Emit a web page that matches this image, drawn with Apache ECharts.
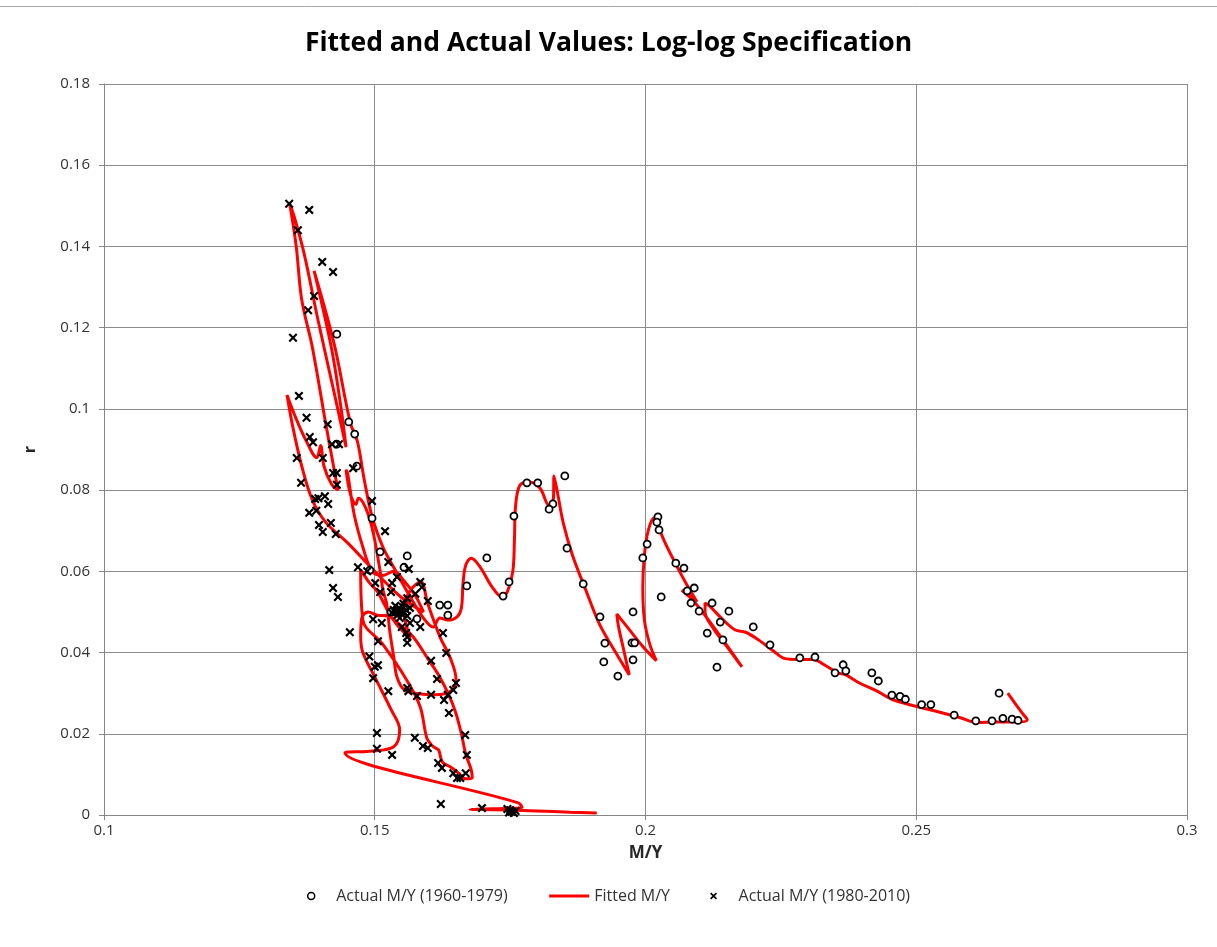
<!DOCTYPE html>
<html><head><meta charset="utf-8">
<script src="https://cdn.jsdelivr.net/npm/echarts@6/dist/echarts.min.js"></script>
<style>html,body{margin:0;padding:0;background:#fff}#c{width:1217px;height:947px}</style>
</head><body><div id="c"></div>
<script>
// Actual M/Y vs r, 1960-1979 (circles)
const actual6079 = [
[0.2285,0.0387],[0.2313,0.0389],[0.2350,0.0350],[0.2365,0.0370],[0.2370,0.0355],[0.2418,0.0350],[0.2430,0.0330],[0.2455,0.0295],[0.2470,0.0292],[0.2480,0.0285],[0.2510,0.0272],[0.2527,0.0272],[0.2570,0.0246],[0.2610,0.0232],[0.2640,0.0232],[0.2653,0.0300],[0.2660,0.0238],[0.2677,0.0236],[0.2688,0.0233],
[0.2199,0.0463],[0.2230,0.0419],[0.2154,0.0502],[0.2143,0.0431],[0.2138,0.0475],[0.2132,0.0364],[0.2114,0.0448],[0.2123,0.0522],[0.2099,0.0502],[0.2084,0.0522],[0.2090,0.0559],[0.2077,0.0552],[0.2071,0.0608],[0.2056,0.0620],[0.2029,0.0537],[0.2025,0.0702],[0.2023,0.0734],[0.2021,0.0721],[0.2003,0.0667],[0.1995,0.0633],[0.1977,0.0500],[0.1975,0.0424],[0.1980,0.0424],[0.1977,0.0382],[0.1949,0.0342],[0.1923,0.0377],[0.1925,0.0423],[0.1916,0.0488],[0.1885,0.0569],
[0.1855,0.0657],[0.1851,0.0835],[0.1829,0.0766],[0.1822,0.0753],[0.1801,0.0818],[0.1781,0.0818],[0.1757,0.0736],[0.1748,0.0574],[0.1737,0.0539],[0.1707,0.0633],[0.1670,0.0564],[0.1635,0.0492],[0.1635,0.0517],[0.1620,0.0517],[0.1578,0.0483],[0.1530,0.0500],
[0.1560,0.0638],[0.1554,0.0610],[0.1510,0.0648],[0.1495,0.0731],[0.1491,0.0603],[0.1467,0.0859],[0.1463,0.0938],[0.1452,0.0968],[0.1430,0.1184],[0.1430,0.0913]
];
// Actual M/Y vs r, 1980-2010 (crosses)
const actual8010 = [
[0.1342,0.1505],[0.1379,0.1490],[0.1358,0.1440],[0.1403,0.1362],[0.1423,0.1337],[0.1388,0.1278],[0.1377,0.1243],[0.1349,0.1175],[0.1360,0.1032],[0.1374,0.0978],[0.1413,0.0962],[0.1380,0.0931],[0.1386,0.0918],[0.1421,0.0913],[0.1434,0.0913],[0.1356,0.0879],[0.1404,0.0879],[0.1364,0.0818],[0.1423,0.0842],[0.1430,0.0842],[0.1430,0.0813],[0.1460,0.0854],
[0.1390,0.0778],[0.1396,0.0780],[0.1408,0.0785],[0.1414,0.0766],[0.1379,0.0744],[0.1392,0.0749],[0.1397,0.0714],[0.1419,0.0719],[0.1404,0.0697],[0.1428,0.0692],[0.1495,0.0773],[0.1519,0.0699],[0.1525,0.0623],[0.1469,0.0610],[0.1486,0.0600],[0.1563,0.0606],[0.1416,0.0603],[0.1541,0.0586],[0.1501,0.0571],[0.1532,0.0571],[0.1584,0.0574],[0.1587,0.0561],[0.1423,0.0559],[0.1510,0.0549],[0.1530,0.0549],[0.1432,0.0537],[0.1560,0.0534],[0.1598,0.0527],[0.1575,0.0545],
[0.1535,0.0505],[0.1540,0.0500],[0.1545,0.0510],[0.1550,0.0495],[0.1548,0.0502],[0.1552,0.0512],[0.1555,0.0498],[0.1542,0.0492],[0.1538,0.0515],[0.1558,0.0505],[0.1560,0.0490],[0.1546,0.0485],[0.1532,0.0498],[0.1565,0.0510],[0.1553,0.0520],
[0.1497,0.0482],[0.1513,0.0473],[0.1565,0.0473],[0.1550,0.0463],[0.1584,0.0463],[0.1454,0.0450],[0.1558,0.0448],[0.1626,0.0448],[0.1506,0.0428],[0.1560,0.0438],[0.1560,0.0424],[0.1632,0.0399],[0.1490,0.0390],[0.1506,0.0369],[0.1500,0.0365],[0.1497,0.0337],[0.1604,0.0380],[0.1615,0.0335],[0.1525,0.0305],[0.1560,0.0313],[0.1562,0.0305],[0.1578,0.0293],[0.1604,0.0296],[0.1628,0.0283],[0.1635,0.0296],[0.1645,0.0308],[0.1650,0.0325],[0.1637,0.0251],
[0.1504,0.0202],[0.1504,0.0163],[0.1532,0.0148],[0.1574,0.0190],[0.1589,0.0170],[0.1598,0.0165],[0.1617,0.0128],[0.1624,0.0116],[0.1645,0.0103],[0.1652,0.0091],[0.1658,0.0091],[0.1668,0.0103],[0.1670,0.0148],[0.1667,0.0197],[0.1622,0.0027],[0.1698,0.0017],[0.1745,0.0015],[0.1750,0.0012],[0.1753,0.0008],[0.1757,0.0005],[0.1760,0.0010],[0.1748,0.0006]
];
// Fitted M/Y vs r, in time order
const fitted1960s = [
[0.2669,0.0300],[0.2695,0.0252],[0.2705,0.0234],[0.2682,0.0229],[0.2645,0.0229],[0.2612,0.0228],[0.2580,0.0240],[0.2535,0.0256],[0.2490,0.0271],[0.2455,0.0285],[0.2425,0.0307],[0.2395,0.0325],[0.2370,0.0345],[0.2355,0.0350],[0.2330,0.0370],[0.2310,0.0383],[0.2280,0.0383],[0.2258,0.0385],[0.2235,0.0405],[0.2210,0.0430],[0.2185,0.0450],[0.2165,0.0456],[0.2140,0.0485],[0.2118,0.0515],[0.2110,0.0522],[0.2110,0.0500],[0.2125,0.0460],[0.2150,0.0415],[0.2178,0.0365],[0.2130,0.0455],[0.2090,0.0525],[0.2067,0.0553],[0.2082,0.0545],[0.2095,0.0525],[0.2075,0.0570],[0.2055,0.0620],[0.2038,0.0665],[0.2025,0.0705],[0.2016,0.0732]
];
const fitted1970s = [
[0.2005,0.0700],[0.1998,0.0640],[0.1995,0.0560],[0.1998,0.0480],[0.2008,0.0420],[0.2020,0.0380],[0.1995,0.0415],[0.1965,0.0465],[0.1947,0.0495],[0.1950,0.0465],[0.1960,0.0405],[0.1970,0.0345],[0.1945,0.0400],[0.1915,0.0470],[0.1888,0.0560],[0.1865,0.0640],[0.1848,0.0720],[0.1838,0.0790],[0.1831,0.0835],[0.1830,0.0780],[0.1822,0.0762],[0.1805,0.0805],[0.1785,0.0820],[0.1768,0.0812],[0.1760,0.0760],[0.1758,0.0680],[0.1755,0.0600],[0.1745,0.0550],[0.1735,0.0537],[0.1715,0.0565],[0.1695,0.0610],[0.1678,0.0632],[0.1668,0.0615],[0.1663,0.0570],[0.1660,0.0510],[0.1652,0.0488],[0.1635,0.0480],[0.1620,0.0485],[0.1608,0.0463],[0.1590,0.0485],[0.1560,0.0550],[0.1535,0.0610],[0.1515,0.0660],[0.1495,0.0735],[0.1480,0.0830],[0.1468,0.0920],[0.1455,0.0965],[0.1425,0.1160],[0.1388,0.1340]
];
const fitted1980s = [
[0.1420,0.1150],[0.1438,0.1000],[0.1447,0.0906],[0.1425,0.1040],[0.1395,0.1220],[0.1370,0.1380],[0.1352,0.1470],[0.1343,0.1505],[0.1355,0.1400],[0.1365,0.1270],[0.1385,0.1150],[0.1410,0.0960],[0.1432,0.0800],[0.1420,0.0815],[0.1406,0.0860],[0.1400,0.0910],[0.1393,0.0880],[0.1372,0.0925],[0.1352,0.0985],[0.1338,0.1034],[0.1348,0.0960],[0.1365,0.0860],[0.1385,0.0775],[0.1410,0.0720],[0.1450,0.0670],[0.1500,0.0600],[0.1550,0.0535],[0.1590,0.0500],[0.1575,0.0540],[0.1555,0.0575],[0.1535,0.0600],[0.1515,0.0590],[0.1495,0.0600],[0.1478,0.0660],[0.1462,0.0740],[0.1450,0.0840],[0.1447,0.0850],[0.1455,0.0790],[0.1465,0.0765],[0.1470,0.0780],[0.1478,0.0770],[0.1488,0.0740],[0.1498,0.0690]
];
const fitted1990s = [
[0.1510,0.0600],[0.1515,0.0555],[0.1522,0.0520],[0.1528,0.0450],[0.1535,0.0390],[0.1541,0.0340],[0.1555,0.0308],[0.1585,0.0298],[0.1610,0.0296],[0.1630,0.0299],[0.1645,0.0310],[0.1650,0.0335],[0.1640,0.0385],[0.1620,0.0440],[0.1598,0.0520],[0.1585,0.0575],[0.1570,0.0560],[0.1560,0.0540],[0.1553,0.0525],[0.1548,0.0500],[0.1551,0.0502],[0.1553,0.0512],[0.1549,0.0500],[0.1547,0.0510],[0.1551,0.0512],[0.1553,0.0500],[0.1549,0.0510],[0.1547,0.0512],[0.1552,0.0500],[0.1556,0.0480],[0.1565,0.0432],[0.1560,0.0442],[0.1550,0.0455],[0.1540,0.0470],[0.1525,0.0500]
];
const fitted2000s = [
[0.1505,0.0550],[0.1490,0.0572],[0.1476,0.0600],[0.1474,0.0603],[0.1478,0.0480],[0.1515,0.0420],[0.1560,0.0330],[0.1584,0.0266],[0.1596,0.0190],[0.1605,0.0172],[0.1612,0.0165],[0.1618,0.0160],[0.1625,0.0130],[0.1640,0.0118],[0.1655,0.0103],[0.1668,0.0089],[0.1680,0.0092],[0.1678,0.0112],[0.1668,0.0150],[0.1660,0.0200],[0.1650,0.0250],[0.1638,0.0292],[0.1620,0.0340],[0.1598,0.0385],[0.1570,0.0440],[0.1545,0.0470],[0.1525,0.0490],[0.1505,0.0492],[0.1488,0.0500],[0.1476,0.0485],[0.1474,0.0440],[0.1478,0.0400],[0.1500,0.0340],[0.1530,0.0260],[0.1546,0.0210],[0.1535,0.0168],[0.1490,0.0157],[0.1445,0.0153],[0.1765,0.0030],[0.1772,0.0019],[0.1740,0.0016],[0.1700,0.0015],[0.1676,0.0014],[0.1720,0.0013],[0.1800,0.0010],[0.1860,0.0007],[0.1910,0.0005]
];
const fitted = [].concat(fitted1960s, fitted1970s, fitted1980s, fitted1990s, fitted2000s);

const FONT = 'Open Sans';
const crossPath = 'path://M0,1.7 L1.7,0 L5,3.3 L8.3,0 L10,1.7 L6.7,5 L10,8.3 L8.3,10 L5,6.7 L1.7,10 L0,8.3 L3.3,5 Z';
const fmt = v => String(+v.toFixed(3));

const chart = echarts.init(document.getElementById('c'), null, {renderer: 'canvas'});
chart.setOption({
  backgroundColor: '#ffffff',
  animation: false,
  title: {
    text: 'Fitted and Actual Values: Log-log Specification',
    left: 'center', top: 25,
    textStyle: {fontFamily: FONT, fontSize: 26.5, fontWeight: 'bold', color: '#000'}
  },
  grid: {left: 104, right: 30, top: 84, bottom: 132, containLabel: false},
  xAxis: {
    type: 'value', min: 0.1, max: 0.3, interval: 0.05,
    name: 'M/Y', nameLocation: 'middle', nameGap: 30,
    nameTextStyle: {fontFamily: FONT, fontSize: 17, fontWeight: 'bold', color: '#262626'},
    axisLine: {show: true, lineStyle: {color: '#868686', width: 1}},
    axisTick: {show: true, length: 5, lineStyle: {color: '#868686'}},
    axisLabel: {formatter: fmt, fontFamily: FONT, fontSize: 15, color: '#333333', margin: 8},
    splitLine: {show: true, lineStyle: {color: '#8c8c8c', width: 1}}
  },
  yAxis: {
    type: 'value', min: 0, max: 0.18, interval: 0.02,
    name: 'r', nameLocation: 'middle', nameGap: 66, nameRotate: 90,
    nameTextStyle: {fontFamily: FONT, fontSize: 16, fontWeight: 'bold', color: '#262626'},
    axisLine: {show: true, lineStyle: {color: '#868686', width: 1}},
    axisTick: {show: true, length: 5, lineStyle: {color: '#868686'}},
    axisLabel: {formatter: fmt, fontFamily: FONT, fontSize: 15, color: '#333333', margin: 14},
    splitLine: {show: true, lineStyle: {color: '#8c8c8c', width: 1}}
  },
  legend: {
    top: 883, left: 'center', itemGap: 40, itemWidth: 40, itemHeight: 7,
    textStyle: {fontFamily: FONT, fontSize: 16, color: '#333333'},
    data: [
      {name: 'Actual M/Y (1960-1979)', icon: 'circle', itemStyle: {color: '#fff', borderColor: '#000', borderWidth: 1.5}},
      {name: 'Fitted M/Y', itemStyle: {color: 'rgba(0,0,0,0)', borderWidth: 0, opacity: 0}, lineStyle: {color: '#ff0000', width: 3}},
      {name: 'Actual M/Y (1980-2010)', icon: crossPath, itemStyle: {color: '#000'}}
    ]
  },
  series: [
    {
      name: 'Actual M/Y (1960-1979)', type: 'scatter', data: actual6079,
      symbol: 'circle', symbolSize: 7, z: 3,
      itemStyle: {color: '#ffffff', borderColor: '#000000', borderWidth: 1.8, opacity: 1}
    },
    {
      name: 'Fitted M/Y', type: 'line', data: fitted, smooth: 0.35,
      showSymbol: false, symbol: 'none', z: 2,
      lineStyle: {color: '#ff0000', width: 3}, itemStyle: {color: '#ff0000'}
    },
    {
      name: 'Actual M/Y (1980-2010)', type: 'scatter', data: actual8010,
      symbol: crossPath, symbolSize: 9, z: 4,
      itemStyle: {color: '#000000', opacity: 1}
    }
  ],
  graphic: [
    {type: 'line', shape: {x1: 0, y1: 6.5, x2: 1217, y2: 6.5}, style: {stroke: '#a6a6a6', lineWidth: 1}, silent: true}
  ]
});
</script>
</body></html>
